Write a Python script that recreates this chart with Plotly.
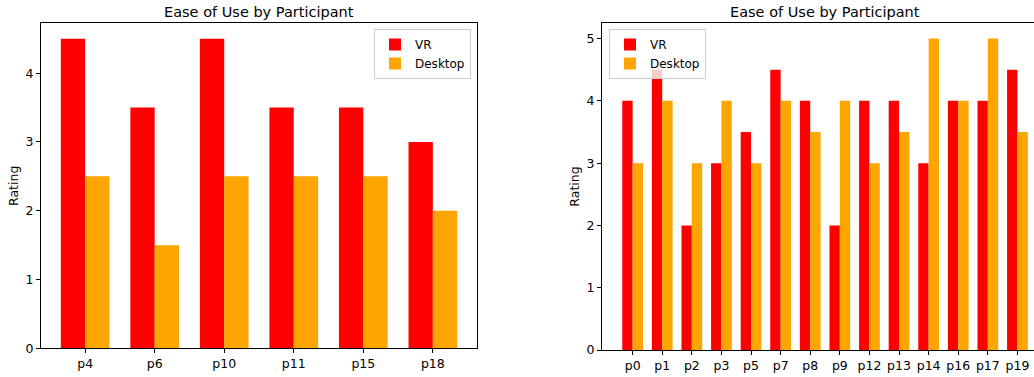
import plotly.graph_objects as go

# Left chart data
left_participants = ["p4", "p6", "p10", "p11", "p15", "p18"]
left_vr = [4.5, 3.5, 4.5, 3.5, 3.5, 3.0]
left_desktop = [2.5, 1.5, 2.5, 2.5, 2.5, 2.0]

# Right chart data
right_participants = ["p0", "p1", "p2", "p3", "p5", "p7", "p8", "p9",
                      "p12", "p13", "p14", "p16", "p17", "p19"]
right_vr = [4, 4.5, 2, 3, 3.5, 4.5, 4, 2, 4, 4, 3, 4, 4, 4.5]
right_desktop = [3, 4, 3, 4, 3, 4, 3.5, 4, 3, 3.5, 5, 4, 5, 3.5]

W, H = 1034, 377
FONT = "DejaVu Sans"
VR_COLOR = "#ff0000"
DESK_COLOR = "#ffa500"

def px_x(p):
    return p / W

def px_y(p):
    return 1 - p / H

fig = go.Figure()

fig.add_trace(go.Bar(x=left_participants, y=left_vr, name="VR",
                     marker=dict(color=VR_COLOR, line=dict(width=0)),
                     xaxis="x", yaxis="y", legend="legend"))
fig.add_trace(go.Bar(x=left_participants, y=left_desktop, name="Desktop",
                     marker=dict(color=DESK_COLOR, line=dict(width=0)),
                     xaxis="x", yaxis="y", legend="legend"))
fig.add_trace(go.Bar(x=right_participants, y=right_vr, name="VR",
                     marker=dict(color=VR_COLOR, line=dict(width=0)),
                     xaxis="x2", yaxis="y2", legend="legend2"))
fig.add_trace(go.Bar(x=right_participants, y=right_desktop, name="Desktop",
                     marker=dict(color=DESK_COLOR, line=dict(width=0)),
                     xaxis="x2", yaxis="y2", legend="legend2"))

axis_common = dict(showgrid=False, zeroline=False, showline=True,
                   linecolor="black", linewidth=1, ticks="outside",
                   ticklen=4, tickcolor="black", tickwidth=1, automargin=False,
                   tickfont=dict(family=FONT, size=12.5, color="black"))

legend_common = dict(bgcolor="rgba(255,255,255,0.8)", bordercolor="#cccccc",
                     borderwidth=1, font=dict(family=FONT, size=12, color="black"),
                     tracegroupgap=0, itemwidth=30)

fig.update_layout(
    width=W, height=H,
    margin=dict(l=0, r=0, t=0, b=0),
    paper_bgcolor="white", plot_bgcolor="white",
    barmode="group", bargap=0.3, bargroupgap=0,
    font=dict(family=FONT, color="black"),
    xaxis=dict(domain=[px_x(41), px_x(477)], anchor="y",
               range=[-0.635, 5.635], mirror=True, **axis_common),
    yaxis=dict(domain=[px_y(348.3), px_y(23.3)], anchor="x",
               range=[0, 4.725], dtick=1, mirror=True,
               title=dict(text="Rating", font=dict(family=FONT, size=12.5), standoff=4),
               **axis_common),
    xaxis2=dict(domain=[px_x(602), 1.0], anchor="y2",
                range=[-1.035, 13.56], mirror=True, **axis_common),
    yaxis2=dict(domain=[px_y(350), px_y(23)], anchor="x2",
                range=[0, 5.25], dtick=1, mirror=False,
                title=dict(text="Rating", font=dict(family=FONT, size=12.5), standoff=4),
                **axis_common),
    legend=dict(x=px_x(471), y=px_y(29), xanchor="right", yanchor="top",
                **legend_common),
    legend2=dict(x=px_x(609), y=px_y(29), xanchor="left", yanchor="top",
                 **legend_common),
    annotations=[
        dict(text="Ease of Use by Participant", x=px_x(259), y=px_y(12),
             xref="paper", yref="paper", xanchor="center", yanchor="middle",
             showarrow=False, font=dict(family=FONT, size=14.5, color="black")),
        dict(text="Ease of Use by Participant", x=px_x(825), y=px_y(12),
             xref="paper", yref="paper", xanchor="center", yanchor="middle",
             showarrow=False, font=dict(family=FONT, size=14.5, color="black")),
    ],
)

fig.write_html(
    "out.html",
    config={"displayModeBar": False},
    post_script="document.body.style.margin='0';document.documentElement.style.overflow='hidden';",
)
